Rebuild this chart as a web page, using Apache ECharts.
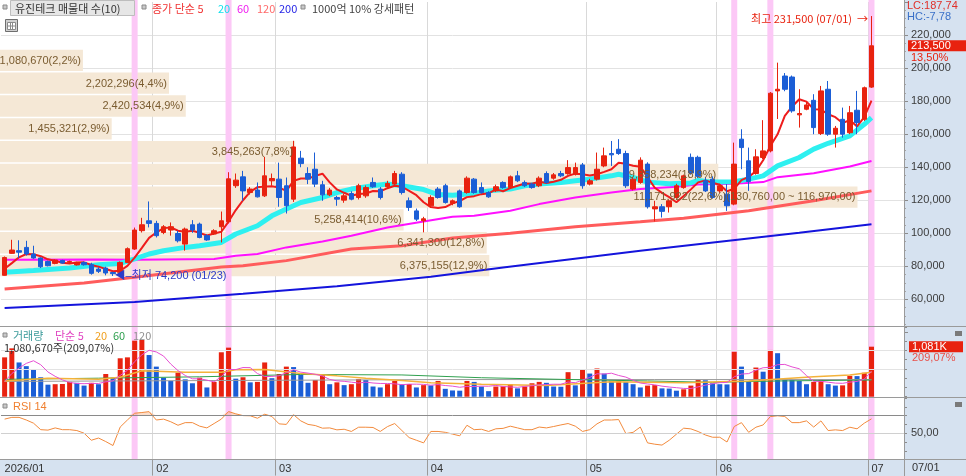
<!DOCTYPE html>
<html>
<head>
<meta charset="utf-8">
<script src="https://cdn.jsdelivr.net/npm/echarts@6.0.0/dist/echarts.min.js"></script>
<style>
html,body{margin:0;padding:0;background:#ffffff;overflow:hidden}
#chart{width:966px;height:476px}
</style>
</head>
<body>
<div id="chart"></div>
<script>
// ---------------- DATA ----------------
const year = '2026';
const dates = [
'01/02','01/05','01/06','01/07','01/08','01/09','01/12','01/13','01/14','01/15','01/16','01/19','01/20','01/21','01/22','01/23','01/26','01/27','01/28','01/29','01/30',
'02/02','02/03','02/04','02/05','02/06','02/09','02/10','02/11','02/12','02/13','02/19','02/20','02/23','02/24','02/25','02/26','02/27',
'03/03','03/04','03/05','03/06','03/09','03/10','03/11','03/12','03/13','03/16','03/17','03/18','03/19','03/20','03/23','03/24','03/25','03/26','03/27','03/30','03/31',
'04/01','04/02','04/03','04/06','04/07','04/08','04/09','04/10','04/13','04/14','04/15','04/16','04/17','04/20','04/21','04/22','04/23','04/24','04/27','04/28','04/29','04/30',
'05/04','05/06','05/07','05/08','05/11','05/12','05/13','05/14','05/15','05/18','05/19','05/20','05/21','05/22','05/26','05/27','05/28','05/29',
'06/01','06/02','06/04','06/05','06/08','06/09','06/10','06/11','06/12','06/15','06/16','06/17','06/18','06/19','06/22','06/23','06/24','06/25','06/26','06/29','06/30',
'07/01'];

const opens = [74600,87900,89500,91500,87500,85100,83000,81800,83600,82500,
80900,82400,81000,78400,79000,76300,76400,82400,90500,101600,
107600,106000,100500,102000,99900,93500,105200,105600,98600,99600,
104000,107000,128800,134200,124700,126200,122700,131800,132800,128800,
120700,145500,136200,138800,129400,123300,121700,120100,124100,121700,
122700,130800,126800,128200,129800,135800,119700,113600,107600,116700,
126800,128800,118100,125700,124700,132800,127700,124700,125700,130800,
127700,134800,130800,129800,128800,136200,133400,136200,136200,135800,
141400,129800,132800,140800,148300,150900,148300,126800,130800,141900,
114800,116100,116100,121700,127700,146000,146000,131800,132800,125700,
123700,117700,157000,143900,136200,145900,149900,186200,195200,194600,
171700,175100,180500,160400,187200,160000,169000,160900,174500,169000,
188500];
const closes = [85400,89900,88600,87500,85100,79800,80400,83900,82000,83000,
82400,81000,75800,77000,76000,75600,82400,90700,102000,105200,
106000,98600,104000,104000,95500,102600,102000,97500,96000,101600,
107600,133000,132200,125700,126800,122100,134800,133200,121700,116700,
152300,142200,132800,129800,123300,126200,120700,122700,120700,128800,
127700,128200,121700,130200,136200,124700,115700,108600,108800,121700,
121700,118700,119700,116100,133400,124700,124700,122100,128200,127700,
134200,131800,128800,127700,133400,130800,135400,134800,139800,139800,
128800,131800,138800,146900,147500,148300,128800,132800,144300,116100,
116100,113300,119700,128800,134800,136500,134500,125700,121700,128800,
116700,141900,151900,131400,146300,149900,184800,187200,187200,174100,
172500,177700,164000,186200,160000,163600,160000,173000,167000,188100,
213500];
const lows = [74400,87600,85100,86500,84600,79000,80000,81300,81600,82000,
80500,80500,75000,76000,74600,74200,75600,82000,90000,100500,
103600,97500,99500,98600,94500,89500,100300,97000,95500,99000,
94500,106000,127500,119700,123500,121700,122000,128800,116100,112000,
119000,140000,129800,128000,119700,122500,116700,118500,120000,120500,
121500,127500,120500,127000,129000,123500,113600,107500,100600,115500,
121000,118000,117000,115500,124000,124000,124000,121500,125000,127000,
127000,131000,128000,127000,128000,130000,132500,134000,135500,135000,
127000,129000,132000,140000,140800,147500,127500,126000,130000,115000,
107200,109600,112600,121000,127000,135500,133500,125000,121000,124500,
113600,117000,138800,125700,135500,145000,149000,169200,186000,173000,
164000,174500,160000,159500,159000,151900,157900,160000,160000,168000,
188000];
const highs = [86000,96100,95800,95500,92500,85500,83500,84300,84000,83500,
82800,83000,82200,79500,79800,76800,83000,91500,103500,109400,
119300,107600,105000,106600,101500,103500,108000,106500,99500,102500,
113200,137000,136200,137800,128000,130800,146300,136200,142800,133800,
156000,149900,140000,148900,131800,127500,122700,124000,125500,130000,
129000,133800,128000,131800,137800,137000,121700,115000,110000,123000,
128000,130000,120500,126500,134500,133500,130800,125500,129500,131500,
135000,137800,132000,130500,134500,137500,136500,137800,144300,142800,
142600,133000,148900,151900,155900,157000,150000,134000,146000,143000,
119700,117700,120500,130000,135500,148300,147000,134000,134500,130000,
129800,154900,163000,151900,150900,168500,185500,203300,197000,195500,
187200,180100,184200,189200,192200,165000,176100,177100,186200,188800,
231500];
const volumes = [850000,1045000,740000,660000,590000,420000,260000,270000,275000,320000,
300000,240000,300000,270000,490000,410000,830000,850000,1210000,1225000,
900000,650000,410000,340000,520000,375000,290000,410000,200000,320000,
960000,1060000,390000,420000,310000,320000,740000,400000,490000,650000,
640000,470000,300000,360000,470000,270000,310000,250000,270000,380000,
360000,220000,200000,270000,340000,270000,275000,200000,250000,245000,
340000,170000,135000,130000,340000,320000,220000,120000,220000,225000,
270000,180000,220000,290000,320000,300000,220000,215000,530000,245000,
590000,500000,610000,500000,340000,345000,320000,270000,200000,240000,
250000,180000,175000,130000,160000,240000,360000,355000,290000,270000,
265000,970000,650000,340000,630000,540000,1010000,940000,370000,360000,
340000,270000,320000,370000,270000,240000,245000,450000,445000,516900,
1080670];
const rsi14 = [66,68,68,65,61.4,54,53.5,56,54,54,
53,50,42,44.5,40.5,36,57,65,72.7,73.5,
74.5,65,66,63,59,62,62,58,56,61,
66,74.6,72,70,69.8,67,71.6,69,60.6,60,
71,64,60,58.7,55.7,56,53.8,54.5,52,56.8,
56.8,56.5,52,57.5,61,53,45,42,39,52,
52,51,49,47,59,54,54.5,52,55,55.5,
58,56,54,54,57,56,57.6,59.4,61,58,
52,54,60.6,65,65,65.5,49.5,51,57,39,
37.5,36.5,42,48.9,55.7,54.9,51.9,48,45.4,45.4,
40,57.6,62,51,56.8,59.4,68.9,69.8,69,62,
62,64,57,64,53,53.8,53,56.8,55,61.4,
66.3];

// moving-average values: [day index, value]
const ma5Lead = [78600, 82000, 85500, 87500];          // before a full 5-day window
const ma20Pts = [[0,76500],[4,77500],[9,79000],[13,81000],[16,81800],[18,84500],[20,87500],[22,89500],[25,91500],[27,92500],[30,94500],[32,99600],[35,104600],[37,110600],[39,114700],[41,118700],[44,121700],[46,124700],[48,126800],[51,128800],[53,129800],[55,128800],[58,126500],[60,123500],[62,123000],[65,124100],[67,125700],[70,126800],[72,128800],[74,129800],[77,130800],[79,131800],[81,132800],[84,134800],[85,135800],[87,133800],[89,131000],[92,130000],[95,130500],[96,132000],[98,131000],[101,131200],[103,132800],[105,134800],[107,140800],[110,145900],[112,151000],[114,154500],[117,159000],[119,166000],[120,170000]];
const ma60Pts = [[0,84000],[13,84200],[18,84000],[29,84500],[32,86500],[35,87500],[39,91500],[44,95100],[48,98600],[53,103600],[58,107200],[62,110000],[65,110600],[70,113700],[74,117700],[79,121700],[84,124700],[88,126800],[93,128200],[96,129500],[101,130000],[105,131000],[107,134000],[112,136400],[117,140400],[120,143800]];
const ma120Pts = [[0,66300],[11,69900],[18,73500],[30,79600],[33,80400],[39,83500],[48,90500],[55,92500],[62,97200],[70,100000],[79,104000],[88,107000],[94,109200],[103,113700],[112,119700],[120,125700]];
const ma200Pts = [[0,54800],[18,58400],[33,63500],[46,68000],[59,73800],[69,79300],[88,89500],[99,94900],[110,100300],[120,105500]];
const volMa5Lead = [330000, 500000, 620000, 720000];
const volMa20Pts = [[0,340000],[6,400000],[13,375000],[16,420000],[19,560000],[25,530000],[30,530000],[32,580000],[36,590000],[41,500000],[46,450000],[50,400000],[55,350000],[59,300000],[66,270000],[75,240000],[84,325000],[94,300000],[103,340000],[112,430000],[117,470000],[120,530000]];
const volMa60Pts = [[0,375000],[13,400000],[27,430000],[41,480000],[55,470000],[66,410000],[77,375000],[89,340000],[98,310000],[107,340000],[120,360000]];
const volMa120Pts = [[0,330000],[30,350000],[60,370000],[90,370000],[120,370000]];

// volume profile (매물대, 10 closing-price zones, bottom to top)
const profileEdges = [75600,89390,103180,116970,130760,144550,158340,172130,185920,199710,213500];
const profileVolumes = [6375155,6341300,5258414,11171922,9358234,3845263,1455321,2420534,2202296,1080670];

// 1000억 10% 강세패턴 signal days
const signalDates = ['01/28','02/19','06/04','06/11','07/01'];

// tick labels
const priceTicks = [60000,80000,100000,120000,140000,160000,180000,200000,220000];

// ---------------- helpers ----------------
const N = dates.length;
const cats = dates.concat(['pad1','pad2','pad3','pad4']);
const fmt = v => String(Math.round(v)).replace(/\B(?=(\d{3})+(?!\d))/g, ',');
const dec = (v, d) => v.toFixed(d).replace('.', ',');
const monthStart = dates.map((d, i) => i === 0 || d.slice(0, 2) !== dates[i - 1].slice(0, 2));
const isMS = i => i < N && monthStart[i];

function movingAverage(values, n, lead) {
  return values.map((v, i) => {
    if (i < n - 1) return lead[i];
    let s = 0;
    for (let k = i - n + 1; k <= i; k++) s += values[k];
    return s / n;
  });
}
const ma5 = movingAverage(closes, 5, ma5Lead).map((v, i) => [i, v]);
const volMa5 = movingAverage(volumes, 5, volMa5Lead).map((v, i) => [i, v]);

const candleData = dates.map((d, i) => [opens[i], closes[i], lows[i], highs[i]]);
const UP = '#e8220f', DOWN = '#1b5ed6';
const volData = volumes.map((v, i) => ({
  value: v,
  itemStyle: { color: (i === 0 || v >= volumes[i - 1]) ? UP : DOWN }
}));

let hiIdx = 0, loIdx = 0;
highs.forEach((h, i) => { if (h > highs[hiIdx]) hiIdx = i; });
lows.forEach((l, i) => { if (l < lows[loIdx]) loIdx = i; });

const lastClose = closes[N - 1];
const chgPct = (lastClose / closes[N - 2] - 1) * 100;
const lastVol = volumes[N - 1];
const volRatio = lastVol / volumes[N - 2] * 100;

const profileTotal = profileVolumes.reduce((a, b) => a + b, 0);
const profilePct = profileVolumes.map(v => v / profileTotal * 100);
let maxBand = 0;
profileVolumes.forEach((v, i) => { if (v > profileVolumes[maxBand]) maxBand = i; });
const profileLabels = profileVolumes.map((v, i) => {
  let s = fmt(v) + '(' + dec(Math.round(profilePct[i] * 10) / 10, 1) + '%)';
  if (i === maxBand) s += '(' + fmt(profileEdges[i + 1]) + ',00 ~ ' + fmt(profileEdges[i]) + ',00)';
  return s;
});
const profileData = profileVolumes.map((v, i) => [profileEdges[i], profileEdges[i + 1], profilePct[i]]);

const signalSet = new Set(signalDates);
const signalData = cats.map((c, i) => (i < N && signalSet.has(dates[i])) ? 1 : '-');

// ---------------- chart ----------------
const FONT = '"Liberation Sans", "Noto Sans CJK KR", sans-serif';
const KFONT = '"Noto Sans CJK KR", "Liberation Sans", sans-serif';
const chart = echarts.init(document.getElementById('chart'));

function catAxis(gridIndex, extra) {
  return Object.assign({
    type: 'category', gridIndex: gridIndex, data: cats, boundaryGap: true,
    axisLine: { show: false }, axisTick: { show: false }, axisLabel: { show: false },
    splitLine: { show: true, interval: (i) => isMS(i) && i > 0, lineStyle: { color: '#d9d9d9', width: 1 } }
  }, extra || {});
}

function txt(x, y, text, color, font) {
  return { type: 'text', z: 100, x: x, y: y,
    style: { text: text, fill: color, font: font || ('11px ' + KFONT), verticalAlign: 'middle', align: 'left' } };
}
function sq(x, y) {
  return { type: 'rect', z: 100, shape: { x: x, y: y, width: 4, height: 4 }, style: { fill: '#c9c9c9', stroke: '#8a8a8a', lineWidth: 1 } };
}
function hline(y, x1, x2) {
  return { type: 'line', z: 90, shape: { x1: x1, y1: y, x2: x2, y2: y }, style: { stroke: '#9a9a9a', lineWidth: 1 } };
}

const graphics = [
  { type: 'rect', z: -100, shape: { x: 904, y: 0, width: 62, height: 476 }, style: { fill: '#d6e2f0' } },
  { type: 'rect', z: -100, shape: { x: 0, y: 460, width: 904, height: 16 }, style: { fill: '#d6e2f0' } },
  hline(326.5, 0, 966), hline(397.5, 0, 966), hline(459.5, 0, 966),
  { type: 'line', z: 90, shape: { x1: 904.5, y1: 0, x2: 904.5, y2: 476 }, style: { stroke: '#9a9a9a', lineWidth: 1 } },
  // top legend
  sq(3, 5),
  { type: 'rect', z: 99, shape: { x: 10.5, y: 0.5, width: 124, height: 15 }, style: { fill: '#e6e6e6', stroke: '#bdbdbd', lineWidth: 1 } },
  txt(15, 8.5, '유진테크 매물대 수(10)', '#333333'),
  sq(142, 5),
  txt(152, 8.5, '종가 단순 5', '#f03232'),
  txt(218, 8.5, '20', '#13e0ec'),
  txt(237, 8.5, '60', '#f020f0'),
  txt(257, 8.5, '120', '#ff6a6a'),
  txt(279, 8.5, '200', '#2626e6'),
  sq(301, 5),
  txt(312, 8.5, '1000억 10% 강세패턴', '#444444'),
  { type: 'rect', z: 100, shape: { x: 5.5, y: 19.5, width: 12, height: 12 }, style: { fill: '#d0d0d0', stroke: '#6e6e6e', lineWidth: 1 } },
  { type: 'rect', z: 101, shape: { x: 7.5, y: 22.5, width: 8, height: 7 }, style: { fill: '#ffffff', stroke: '#8a8a8a', lineWidth: 1 } },
  { type: 'line', z: 102, shape: { x1: 10.5, y1: 22.5, x2: 10.5, y2: 29.5 }, style: { stroke: '#8a8a8a' } },
  { type: 'line', z: 102, shape: { x1: 12.5, y1: 22.5, x2: 12.5, y2: 29.5 }, style: { stroke: '#8a8a8a' } },
  { type: 'line', z: 102, shape: { x1: 7.5, y1: 26, x2: 15.5, y2: 26 }, style: { stroke: '#8a8a8a' } },
  // right top info
  txt(907, 6, 'LC:187,74', '#e0302a', '11px ' + FONT),
  txt(907, 17, 'HC:-7,78', '#3a70c8', '11px ' + FONT),
  // volume legend
  sq(3, 333),
  txt(13, 335.5, '거래량', '#3a9a9a'),
  txt(55, 335.5, '단순 5', '#e040c0'),
  txt(95, 335.5, '20', '#f0a020'),
  txt(113, 335.5, '60', '#30a050'),
  txt(133, 335.5, '120', '#909090'),
  txt(4, 348, fmt(lastVol) + '주(' + dec(volRatio, 2) + '%)', '#333333'),
  // rsi legend
  sq(3, 404),
  txt(13, 406.5, 'RSI 14', '#f08030', '11px ' + FONT),
  // small panel icons
  { type: 'rect', z: 100, shape: { x: 955, y: 331, width: 7, height: 5 }, style: { fill: '#7a7a7a' } },
  { type: 'rect', z: 100, shape: { x: 955, y: 402, width: 7, height: 5 }, style: { fill: '#7a7a7a' } },
  // bottom right date
  txt(912, 468, dates[N - 1], '#333333', '11px ' + FONT)
];

const lineS = (name, data, color, width, z, xi, yi) => ({
  name: name, type: 'line', data: data, xAxisIndex: xi || 0, yAxisIndex: yi || 0,
  showSymbol: false, symbol: 'none', silent: true, z: z, animation: false,
  lineStyle: { color: color, width: width }
});

function profileSeries(withText, z) {
  return { name: withText ? 'profileText' : 'profile', type: 'custom', xAxisIndex: 4, yAxisIndex: 4, z: z, silent: true,
    dimensions: ['lo', 'hi', 'pct'], encode: { x: 'pct', y: ['lo', 'hi'] },
    data: profileData,
    renderItem: function (params, api) {
      const lo = api.value(0), hi = api.value(1), pct = api.value(2);
      const p1 = api.coord([0, hi]);
      const p2 = api.coord([pct, lo]);
      const h = p2[1] - p1[1];
      if (withText) {
        return { type: 'text', style: { text: profileLabels[params.dataIndex], x: p2[0] - 2, y: p1[1] + 1 + h / 2,
          align: 'right', verticalAlign: 'middle', fill: '#7a5c30', font: '11px ' + FONT } };
      }
      return { type: 'rect', shape: { x: p1[0], y: p1[1] + 1.5, width: p2[0] - p1[0], height: h - 1.5 }, style: { fill: '#f5e8d6' } };
    } };
}

const option = {
  animation: false,
  textStyle: { fontFamily: FONT },
  grid: [
    { left: 1, top: 2, width: 903, height: 330.5, outerBoundsMode: 'none' },
    { left: 1, top: 327, width: 903, height: 69.7, outerBoundsMode: 'none' },
    { left: 1, top: 398, width: 903, height: 61.6, outerBoundsMode: 'none' },
    { left: 1, top: 0, width: 903, height: 459.6, outerBoundsMode: 'none' },
    { left: 0, top: 4.5, width: 904, height: 330.5, outerBoundsMode: 'none' }
  ],
  xAxis: [
    catAxis(0),
    catAxis(1),
    catAxis(2, {
      axisTick: { show: true, interval: (i) => isMS(i) && i > 0, length: 16, lineStyle: { color: '#9a9a9a' } },
      axisLabel: { show: true, interval: (i) => isMS(i), align: 'left', margin: 4, color: '#333333', fontSize: 11,
        formatter: (v, i) => i === 0 ? year + '/' + v.slice(0, 2) : v.slice(0, 2) }
    }),
    catAxis(3, { splitLine: { show: false } }),
    { type: 'value', gridIndex: 4, min: 0, max: 904 / 38, show: false }
  ],
  yAxis: [
    { type: 'value', gridIndex: 0, position: 'right', min: 40000, max: 240000, interval: 20000,
      axisLine: { show: false },
      axisTick: { show: true, length: 4, lineStyle: { color: '#8c8c8c' } },
      minorTick: { show: true, splitNumber: 4, length: 2, lineStyle: { color: '#a5a5a5' } },
      axisLabel: { margin: 7, color: '#3c3c3c', fontSize: 11,
        formatter: v => priceTicks.indexOf(v) >= 0 ? fmt(v) : '' },
      splitLine: { show: true, showMinLine: false, showMaxLine: false, lineStyle: { color: '#e2e2e2' } } },
    { type: 'value', gridIndex: 1, position: 'right', min: 0, max: 1506000, interval: 200000,
      axisLine: { show: false }, axisLabel: { show: false }, splitLine: { show: false },
      axisTick: { show: true, length: 3, lineStyle: { color: '#8c8c8c' } } },
    { type: 'value', gridIndex: 2, position: 'right', min: 20, max: 90, interval: 10,
      axisLine: { show: false }, splitLine: { show: false },
      axisTick: { show: true, length: 3, lineStyle: { color: '#8c8c8c' } },
      axisLabel: { margin: 7, color: '#3c3c3c', fontSize: 11, formatter: v => v === 50 ? '50,00' : '' } },
    { type: 'value', gridIndex: 3, min: 0, max: 1, show: false },
    { type: 'value', gridIndex: 4, min: 40000, max: 240000, show: false }
  ],
  graphic: { elements: graphics },
  series: [
    profileSeries(false, 1),
    { name: 'signal', type: 'bar', xAxisIndex: 3, yAxisIndex: 3, data: signalData, barWidth: 6, z: 2, silent: true,
      itemStyle: { color: '#fcc8f6' } },
    lineS('MA200', ma200Pts, '#1414dc', 2, 3),
    lineS('MA120', ma120Pts, '#ff5c5c', 3, 3),
    lineS('MA60', ma60Pts, '#ff10ff', 2, 3),
    lineS('MA20', ma20Pts, '#2ef0f0', 5, 3),
    lineS('MA5', ma5, '#ee1c1c', 2, 3),
    { name: 'price', type: 'candlestick', xAxisIndex: 0, yAxisIndex: 0, data: candleData, barWidth: 5, z: 4, silent: true,
      itemStyle: { color: UP, color0: DOWN, borderColor: UP, borderColor0: DOWN, borderWidth: 1 },
      markPoint: {
        symbol: 'circle', symbolSize: 1, silent: true, itemStyle: { color: 'rgba(0,0,0,0)' },
        data: [
          { coord: [hiIdx, highs[hiIdx]], label: { show: true, position: 'left', distance: 3, offset: [0, 3], color: '#e8220f', fontSize: 11, fontFamily: KFONT,
              formatter: '최고 ' + fmt(highs[hiIdx]) + ' (' + dates[hiIdx] + ')  →' } },
          { coord: [loIdx, lows[loIdx]], label: { show: true, position: 'right', distance: 1, color: '#2c3cc8', fontSize: 11, fontFamily: FONT,
              formatter: '◀–최저 ' + fmt(lows[loIdx]) + ' (' + dates[loIdx] + ')' } }
        ]
      },
      markLine: {
        silent: true, symbol: ['none', 'none'], animation: false,
        data: [{ yAxis: lastClose, lineStyle: { color: 'rgba(0,0,0,0)' },
          label: { show: true, position: 'end', distance: 4,
            formatter: '{e| }\n{a|' + fmt(lastClose) + '}\n{b|' + dec(chgPct, 2) + '%}',
            rich: {
              e: { fontSize: 11, lineHeight: 11 },
              a: { backgroundColor: UP, color: '#ffffff', fontSize: 11, lineHeight: 13, padding: [0, 3], width: 52 },
              b: { color: UP, fontSize: 11, lineHeight: 11, padding: [0, 0, 0, 3] }
            } } }]
      } },
    profileSeries(true, 10),
    { name: 'volume', type: 'bar', xAxisIndex: 1, yAxisIndex: 1, data: volData, barWidth: 5, z: 4, silent: true,
      markLine: {
        silent: true, symbol: ['none', 'none'], animation: false,
        data: [
          { yAxis: 600000, lineStyle: { color: '#e3e3e3', type: 'solid', width: 1 }, label: { show: false } },
          { yAxis: 1000000, lineStyle: { color: '#e3e3e3', type: 'solid', width: 1 }, label: { show: false } },
          { yAxis: lastVol, lineStyle: { color: 'rgba(0,0,0,0)' },
            label: { show: true, position: 'end', distance: 5,
              formatter: '{e| }\n{a|' + fmt(lastVol / 1000) + 'K}\n{b|' + dec(volRatio, 2) + '%}',
              rich: {
                e: { fontSize: 11, lineHeight: 11 },
                a: { backgroundColor: UP, color: '#ffffff', fontSize: 11, lineHeight: 12, padding: [0, 3], width: 48 },
                b: { color: '#e8504a', fontSize: 11, lineHeight: 11, padding: [0, 0, 0, 3] }
              } } }
        ]
      } },
    lineS('VMA120', volMa120Pts, '#9a9a9a', 1, 5, 1, 1),
    lineS('VMA60', volMa60Pts, '#2fa04e', 1, 5, 1, 1),
    lineS('VMA20', volMa20Pts, '#f4b23a', 1.5, 5, 1, 1),
    lineS('VMA5', volMa5, '#e64fd2', 1, 5, 1, 1),
    { name: 'rsiFill', type: 'line', xAxisIndex: 2, yAxisIndex: 2, data: rsi14.map(v => Math.max(v, 70)),
      showSymbol: false, symbol: 'none', silent: true, z: 3, lineStyle: { width: 0, color: 'rgba(0,0,0,0)' },
      areaStyle: { color: 'rgba(246,170,120,0.55)', origin: 70 } },
    Object.assign(lineS('RSI', rsi14, '#f28a3c', 1, 4, 2, 2), {
      markLine: {
        silent: true, symbol: ['none', 'none'], animation: false, label: { show: false },
        data: [
          { yAxis: 70, lineStyle: { color: '#8a8a8a', type: 'solid', width: 1 } },
          { yAxis: 50, lineStyle: { color: '#d0d0d0', type: 'solid', width: 1 } }
        ]
      } })
  ]
};
chart.setOption(option);
</script>
</body>
</html>
